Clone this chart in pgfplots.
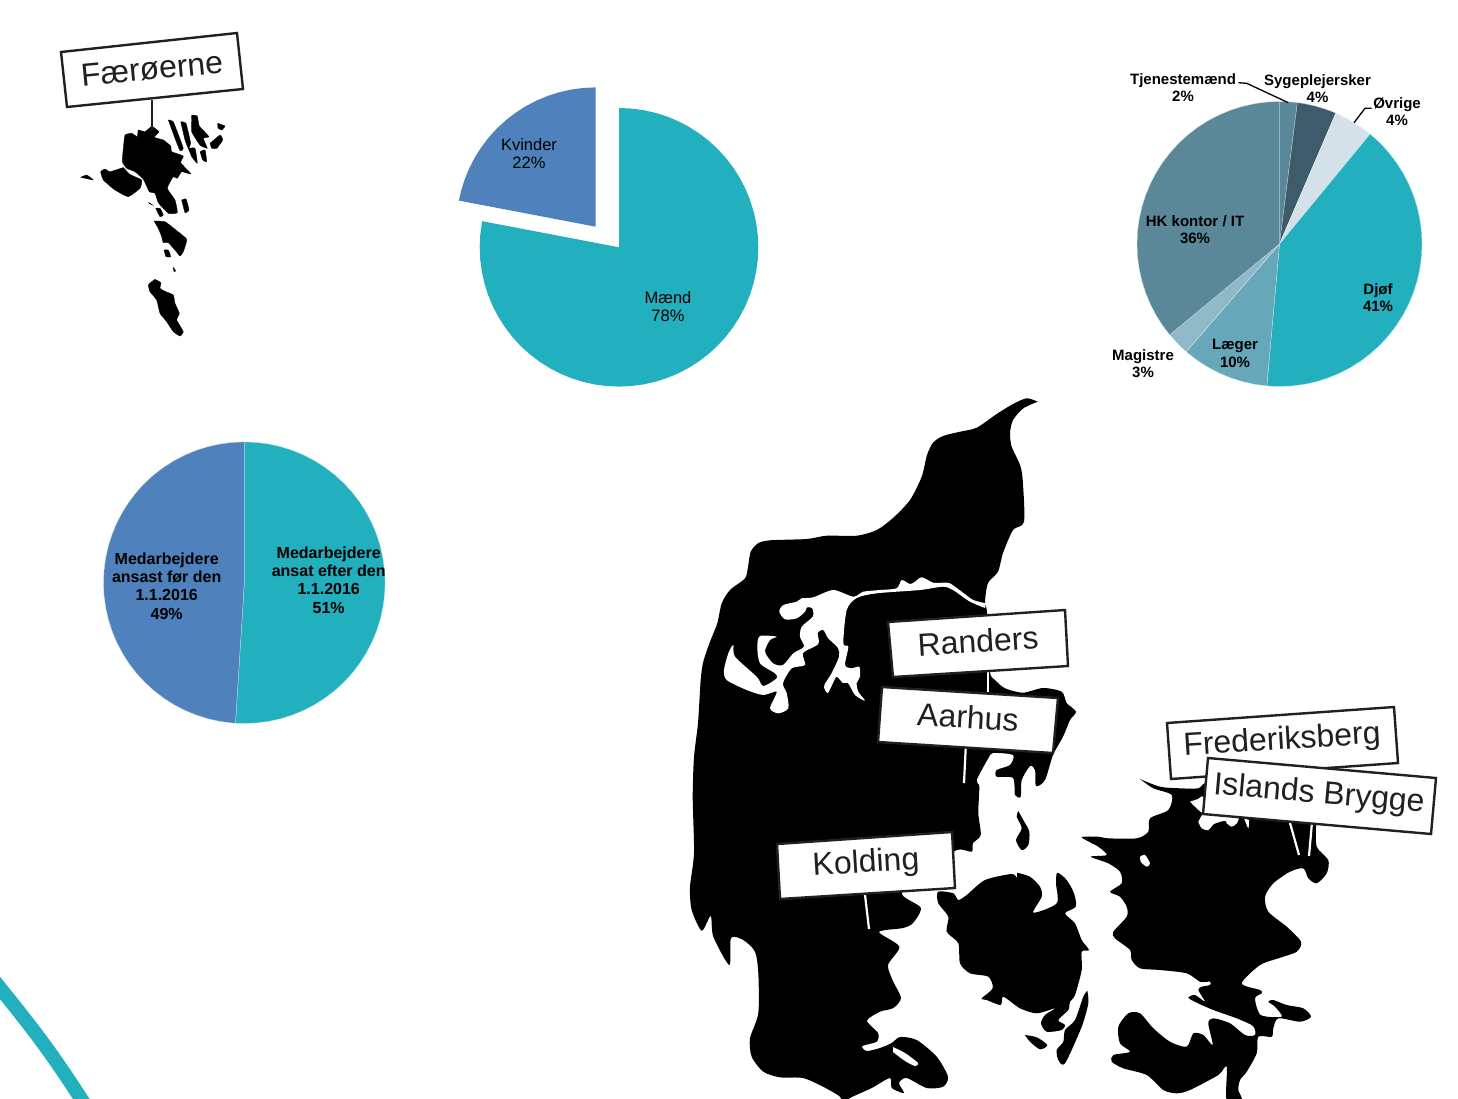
\documentclass[border=0pt]{standalone}
\usepackage{pgfplots}
\pgfplotsset{compat=1.18}
\usepackage{fontspec}
\setmainfont{Liberation Sans}
\definecolor{teal1}{HTML}{22AFBE}
\definecolor{blue1}{HTML}{4F81BC}
\definecolor{hk}{HTML}{5A8898}
\definecolor{syg}{HTML}{3E5B6C}
\definecolor{ovr}{HTML}{D5E1E9}
\definecolor{laeg}{HTML}{67A7BA}
\definecolor{mag}{HTML}{8FB8C8}
\definecolor{ink}{HTML}{231F20}
\pgfplotsset{
  pie/.style={hide axis, scale only axis, anchor=center, clip=false,
    xmin=-1,xmax=1,ymin=-1,ymax=1},
  slice/.style={fill=#1, draw=white!70!#1, line width=0.3pt, data cs=polar},
  land/.style={fill=black, draw=none, smooth, tension=0.45},
  plain land/.style={fill=black, draw=black, line width=0.3pt, smooth, tension=0.25},
  sea/.style={fill=white, draw=none, smooth, tension=0.45},
  box/.style={fill=white, draw=ink, line width=2.4pt, line join=miter},
  stemw/.style={draw=white, line width=2.2pt},
}
\begin{document}
\begin{tikzpicture}[x=1pt,y=1pt]
\path[use as bounding box] (0,0) rectangle (1458,1098);
% Pie: Maend / Kvinder
\begin{axis}[pie, at={(619pt,850.7pt)}, width=278.6pt, height=278.6pt]
\addplot[fill=teal1,draw=none,data cs=polar] coordinates {(0,0)(90,1)(85,1)(80,1)(75,1)(70,1)(65,1)(60,1)(55,1)(50,1)(45,1)(40,1)(35,1)(30,1)(25,1)(20,1)(15,1)(10,1)(5,1)(0,1)(-5,1)(-10,1)(-15,1)(-20,1)(-25,1)(-30,1)(-35,1)(-40,1)(-45,1)(-50,1)(-55,1)(-60,1)(-65,1)(-70,1)(-75,1)(-80,1)(-85,1)(-90,1)(-95,1)(-100,1)(-105,1)(-110,1)(-115,1)(-120,1)(-125,1)(-130,1)(-135,1)(-140,1)(-145,1)(-150,1)(-155,1)(-160,1)(-165,1)(-170,1)(-175,1)(-180,1)(-185,1)(-190,1)(-190.8,1)(0,0)};
\end{axis}
\begin{axis}[pie, at={(595.7pt,871.3pt)}, width=278.6pt, height=278.6pt]
\addplot[fill=blue1,draw=none,data cs=polar] coordinates {(0,0)(169.2,1)(165,1)(160,1)(155,1)(150,1)(145,1)(140,1)(135,1)(130,1)(125,1)(120,1)(115,1)(110,1)(105,1)(100,1)(95,1)(90,1)(0,0)};
\end{axis}
% Pie: faggrupper
\begin{axis}[pie, at={(1279.5pt,854pt)}, width=285pt, height=285pt]
\addplot[slice=hk] coordinates {(0,0)(90,1)(85,1)(82.8,1)(0,0)};
\addplot[slice=syg] coordinates {(0,0)(82.8,1)(80,1)(75,1)(70,1)(66.7,1)(0,0)};
\addplot[slice=ovr] coordinates {(0,0)(66.7,1)(65,1)(60,1)(55,1)(50.5,1)(0,0)};
\addplot[slice=teal1] coordinates {(0,0)(50.5,1)(50,1)(45,1)(40,1)(35,1)(30,1)(25,1)(20,1)(15,1)(10,1)(5,1)(0,1)(-5,1)(-10,1)(-15,1)(-20,1)(-25,1)(-30,1)(-35,1)(-40,1)(-45,1)(-50,1)(-55,1)(-60,1)(-65,1)(-70,1)(-75,1)(-80,1)(-85,1)(-90,1)(-95,1)(-95.1,1)(0,0)};
\addplot[slice=laeg] coordinates {(0,0)(-95.1,1)(-100,1)(-105,1)(-110,1)(-115,1)(-120,1)(-125,1)(-130,1)(-130.9,1)(0,0)};
\addplot[slice=mag] coordinates {(0,0)(-130.9,1)(-135,1)(-140,1)(-140.4,1)(0,0)};
\addplot[slice=hk] coordinates {(0,0)(-140.4,1)(-145,1)(-150,1)(-155,1)(-160,1)(-165,1)(-170,1)(-175,1)(-180,1)(-185,1)(-190,1)(-195,1)(-200,1)(-205,1)(-210,1)(-215,1)(-220,1)(-225,1)(-230,1)(-235,1)(-240,1)(-245,1)(-250,1)(-255,1)(-260,1)(-265,1)(-270,1)(0,0)};
\end{axis}
% Pie: Medarbejdere
\begin{axis}[pie, at={(244.3pt,515.3pt)}, width=281.6pt, height=281.6pt]
\addplot[slice=teal1] coordinates {(0,0)(90,1)(85,1)(80,1)(75,1)(70,1)(65,1)(60,1)(55,1)(50,1)(45,1)(40,1)(35,1)(30,1)(25,1)(20,1)(15,1)(10,1)(5,1)(0,1)(-5,1)(-10,1)(-15,1)(-20,1)(-25,1)(-30,1)(-35,1)(-40,1)(-45,1)(-50,1)(-55,1)(-60,1)(-65,1)(-70,1)(-75,1)(-80,1)(-85,1)(-90,1)(-93.6,1)(0,0)};
\addplot[slice=blue1] coordinates {(0,0)(-93.6,1)(-95,1)(-100,1)(-105,1)(-110,1)(-115,1)(-120,1)(-125,1)(-130,1)(-135,1)(-140,1)(-145,1)(-150,1)(-155,1)(-160,1)(-165,1)(-170,1)(-175,1)(-180,1)(-185,1)(-190,1)(-195,1)(-200,1)(-205,1)(-210,1)(-215,1)(-220,1)(-225,1)(-230,1)(-235,1)(-240,1)(-245,1)(-250,1)(-255,1)(-260,1)(-265,1)(-270,1)(0,0)};
\end{axis}
% Main canvas in picture pixels
\begin{axis}[at={(0pt,0pt)}, anchor=south west, hide axis, scale only axis,
  width=1458pt, height=1098pt, xmin=0, xmax=1458, ymin=0, ymax=1098, y dir=reverse]
% teal arc
\addplot[draw=teal1, line width=14pt, smooth, tension=0.7] coordinates {(-12,973)(0,988)(20,1013)(40,1039)(60,1067)(80,1097)(92,1116)};
% Jutland
\addplot[land] coordinates {(1037.7,401.7)(1026.7,398.3)(1013,404)(996.7,414)(976.7,427.7)(960,431.7)(943,436)(933,442.7)(927,455)(921.7,476.7)(910,500)(893,518)(876.7,530)(856.7,535.7)(826.7,535.7)(806.7,539)(770,540.3)(758,543.3)(750.7,551.7)(748,566.7)(745,578.3)(730,590)(721.7,603.3)(717.3,623.3)(710,641.7)(703.3,661.7)(700.7,680)(698,723)(694,757)(692.7,797)(694,853)(690,887)(691.7,910)(701.7,930.7)(710.7,916)(713.3,936.7)(729.3,965)(731,938)(743.3,940)(755,951.7)(758.3,973.3)(758.3,1013.3)(750,1038.3)(751.7,1056.7)(763.3,1071.7)(780,1077.3)(803,1078)(823,1086.7)(840,1096.7)(843,1105)(850,1098)(871.7,1088)(890,1078)(891.7,1088)(904,1093)(899,1083)(906.7,1078)(926.7,1088)(943,1086.7)(948,1076.7)(936.7,1056.7)(916.7,1040)(900,1037)(891.7,1043)(880,1048)(866.7,1051)(862.3,1046)(876.7,1041.7)(878,1033)(867,1020.7)(880,1011.7)(893.3,1008)(901,998)(893.3,981.7)(888,965)(899.3,946.7)(879,932)(903,928)(913,923)(920.7,907.7)(901.7,893)(930,870)(956.7,850)(971.7,851.7)(973,843)(980.7,835)(978.3,813)(979.3,786.7)(976.7,780)(988.3,758.3)(993,753)(1013,755)(1010,765)(996.7,770)(996.7,776.7)(1013,778)(1015,795)(1020.7,796.7)(1021.7,780)(1030,766)(1035,770)(1036,786)(1045,780)(1053,755)(1063,736.7)(1070,720)(1076,711.7)(1066.7,703)(1061.7,691.7)(1043,688)(1023,692.7)(1005,688.3)(995,680)(990,673)(987,640)(987,612)(985,601.7)(988,583)(998,571.7)(1003,553)(1013,530)(1024,521.7)(1022.7,480)(1020,465)(1011.7,446.7)(1010,433)(1013,420)(1023.3,408.3)(1037.7,401.7)};
% fjord sliver
\addplot[sea] coordinates {(893,1047)(905,1053)(918,1063)(915,1066)(905,1061)(893,1052)};
% Limfjord
\addplot[sea] coordinates {(986,603.3)(973.3,600)(961.7,591.7)(950,583.3)(943.3,582.7)(933.3,582.7)(921.7,577.3)(915,581.7)(910,584)(901.7,580)(896.7,588.3)(880,590)(863.3,591.7)(853.3,596.7)(833.3,590)(813.3,597.3)(801.7,598.3)(796.7,601.7)(783.3,605)(779.3,611.7)(785,619.3)(796.7,618.3)(805,611.7)(807,607.3)(812.3,608.3)(812.7,616.7)(801.7,626.7)(800,636.7)(804,646.7)(793.3,653.3)(783,665)(773,663.3)(765,651.7)(770,640)(776.7,636.7)(760,636)(757.3,646.7)(760,663.3)(775,673.3)(776.7,678.3)(763.3,686)(756.7,676.7)(735,656.7)(733.3,645)(728.3,653.3)(724,670)(726.7,680)(746.7,690)(763.3,695)(776.7,691.7)(770,708.3)(778.3,713.3)(788.3,708.3)(786.7,693.3)(783,683.3)(791.7,668.3)(805,665)(803,653)(818.3,644)(817.7,633)(823.3,630)(828,638)(838,648)(839,656.7)(831.7,673)(824.3,685)(825,690)(828,693)(833,683)(836.7,676.7)(843,683)(848,683)(855,695)(865,700.7)(858.3,691.7)(856.7,683)(860,676.7)(859.3,666.7)(851.7,668.3)(845,665)(848.3,646.7)(843.3,643.3)(846.7,610)(856.7,598)(876.7,593.3)(920,590)(943,586.7)(953,590)(970,601.7)(985,608)};
% Fyn
\addplot[land] coordinates {(1017,872.7)(1030,876.7)(1040,886.7)(1041.7,896.7)(1033.3,912.7)(1056.7,903.3)(1056,883.3)(1057.3,872.7)(1066.7,880)(1074,893.3)(1075.7,906.7)(1065,913.3)(1075,923.3)(1081.7,940)(1089,950)(1081.7,951.7)(1081.7,970)(1075,995)(1070,1001.7)(1068.3,1010)(1058.3,1020)(1065,1025)(1061.7,1030)(1046.7,1031.7)(1041,1023.3)(1045,1015)(1055,1008.3)(1036.7,1013.3)(1020,1008.3)(1003.3,996.7)(1000.7,1005)(986.7,1000)(981.7,998.3)(992.7,988.3)(988.3,976.7)(970,973.3)(960,963.3)(958.3,943.3)(946.7,931.7)(948.3,916.7)(938.3,903.3)(938,891.7)(953.3,893.3)(958.3,900)(966.7,895)(985,880)(1011.7,874)(1017,878.3)};
\addplot[land] coordinates {(1087.3,990.7)(1088.3,1003.3)(1081.7,1026.7)(1065,1063.3)(1058.3,1060)(1056.7,1050)(1063.3,1041.7)(1065,1030)(1075,1020)(1083.3,996.7)(1087.3,990.7)};
\addplot[land] coordinates {(1025,1035)(1036.7,1037.3)(1047.3,1045)(1040,1049.3)(1030,1041.7)(1025,1035)};
\addplot[land] coordinates {(1018.3,811)(1023.3,820)(1029.3,831.7)(1028.3,845)(1021.7,850)(1016,840)(1021.7,828.3)(1016.7,816.7)(1018.3,811)};
% Sjaelland, Moen, Falster, Lolland
\addplot[land] coordinates {(1140,779)(1160,786.7)(1180,788.3)(1198.3,788.3)(1206.7,783.3)(1230,800)(1315,812)(1316,823.3)(1316.7,846.7)(1328.3,860)(1326.7,873.3)(1316.7,883.3)(1308.3,878.3)(1303.3,868.3)(1290,871.7)(1273.3,883.3)(1265,896.7)(1268.3,911.7)(1286.7,926.7)(1301,941.7)(1296.7,951.7)(1278.3,958.3)(1260,965)(1241.7,983.3)(1260,990)(1261.7,993.3)(1255,998.3)(1260.7,1015)(1281.7,1016.7)(1275,1006.7)(1268.3,1001.7)(1273.3,1000)(1286.7,1005)(1303.3,1008.3)(1311,1016.7)(1300,1021.7)(1278.3,1018.3)(1273.3,1028.3)(1271.7,1036.7)(1258.3,1036.7)(1256.7,1053.3)(1246.7,1071.7)(1240,1080)(1238.3,1090)(1241.7,1100)(1226.7,1100)(1226.7,1066.7)(1218.3,1075)(1190,1090)(1176.7,1093.3)(1163.3,1090)(1146.7,1075)(1123.3,1068.3)(1111.7,1061.7)(1113.3,1055)(1130,1051.7)(1120,1043.3)(1118.3,1026.7)(1128.3,1013.3)(1140,1013.3)(1153.3,1028.3)(1170,1041.7)(1186.7,1046.7)(1193.3,1033.3)(1203.3,1035)(1212.7,1045)(1208.3,1023.3)(1213.3,1018.3)(1230,1023.3)(1245,1035)(1255,1035)(1253,1026)(1236.7,1018.3)(1213.3,1010)(1196.7,1002.7)(1188.3,997.7)(1195,995)(1205,1001.7)(1198.3,990)(1201.7,986.7)(1210,985)(1210,981.7)(1200,981.7)(1186.7,973.3)(1160,970)(1140,968.3)(1131.7,960)(1130,950)(1115,938.3)(1113.3,931.7)(1126.7,916.7)(1126.7,906.7)(1120,896.7)(1110,891.7)(1121.7,883.3)(1120,871.7)(1108.3,863.3)(1090.7,856.7)(1106.7,855)(1098.3,846.7)(1081.7,837.3)(1098.3,836.7)(1108.3,838.3)(1136.7,838.3)(1148.3,831.7)(1150,818.3)(1168.3,810)(1171.7,795)(1153.3,788.3)(1140,779)};
\addplot[sea] coordinates {(1198.3,821.7)(1201.7,828.3)(1208.3,830)(1214,824)(1225,820.7)(1226.7,823.3)(1231.7,826.7)(1236.7,823.3)(1236.7,816.7)(1203,813)};
\addplot[sea] coordinates {(1190,801.7)(1203,813)(1203.3,796.7)(1198,799)};
\addplot[sea] coordinates {(1244,818.3)(1248.3,828.3)(1249,820)};
\addplot[sea] coordinates {(1140,856.7)(1145,855)(1150,863.3)(1146.7,866.7)(1140.7,861.7)(1140,856.7)};
% Faroe Islands
\addplot[plain land] coordinates {(151.7,126)(159,131.7)(154.3,137.3)(163.3,140)(170.7,146)(171.7,151.7)(183.3,156)(180.7,162.7)(191,174)(181.7,171.7)(177.3,178.3)(173.3,176.7)(167.3,188.3)(175,200)(177.3,212.7)(168.3,213.3)(158.3,202.7)(155,193.3)(149.3,191.7)(143.3,179.3)(135,171.7)(126.7,168.3)(122.3,161.7)(123.3,148.3)(125,135)(131.7,133.3)(137.3,136.7)(138.3,130)(145,131.7)(151.7,126)};
\addplot[plain land] coordinates {(123.3,167.5)(130,174.5)(141.7,180)(140,188.3)(128.3,196.7)(115,190)(103.3,180)(100.7,171.7)(105,169)(110,171.7)(123.3,167.5)};
\addplot[plain land] coordinates {(80.7,177.3)(86.7,175)(93.3,180)(80.7,177.3)};
\addplot[plain land] coordinates {(168.3,120)(173.3,121.7)(183.3,148.3)(180,150.7)(175,138.3)(168.3,120)};
\addplot[plain land] coordinates {(180.7,121.7)(186,123.3)(190.7,143.3)(188.3,148.3)(185,140)(180.7,121.7)};
\addplot[plain land] coordinates {(191.7,115)(197.3,116)(199.3,126)(209,136.7)(203.3,138.3)(207.3,148.3)(200,145)(191.7,131.7)(191.7,115)};
\addplot[plain land] coordinates {(188.3,148.3)(195,148.3)(197.3,163.3)(191.7,156.7)(188.3,148.3)};
\addplot[plain land] coordinates {(200,151.7)(205,150)(206.7,161.7)(202.7,160)(200,151.7)};
\addplot[plain land] coordinates {(217.7,123.3)(225,126)(221.7,130)(218,128)(217.7,123.3)};
\addplot[plain land] coordinates {(210,143.3)(220,135)(222.7,140)(216.7,148.3)(211.7,148.3)(210,143.3)};
\addplot[plain land] coordinates {(181.7,200)(186,199)(189,210)(185,212.7)(181.7,200)};
\addplot[plain land] coordinates {(155.7,208.3)(160,208.3)(163.3,215)(160,216.7)(155.7,208.3)};
\addplot[plain land] coordinates {(148.3,202.3)(152.7,205)(150,204)(148.3,202.3)};
\addplot[plain land] coordinates {(154,221)(165,221.7)(175,229.3)(186.7,239.3)(183.3,251.7)(180,256)(175,250)(168.3,242.7)(163.3,242.7)(161.7,236.7)(158.3,228.3)(154,221)};
\addplot[plain land] coordinates {(164,250)(168.3,250)(170.7,256.7)(166,256.7)(164,250)};
\addplot[plain land] coordinates {(173.3,267.3)(175.7,270.7)(174,271.7)(173.3,267.3)};
\addplot[plain land] coordinates {(155,279.3)(161,282.7)(160,288.3)(166,291.7)(173.3,295)(175,303.3)(179.3,313.3)(176.7,320)(183.3,331.7)(180,336)(173.3,331.7)(166.7,321.7)(160,313.3)(156.7,300)(150,291.7)(148.3,285)(151.7,281.7)(155,279.3)};
% stems
\addplot[draw=ink, line width=2.4pt] coordinates {(152,100)(152,130)};
\addplot[stemw] coordinates {(988,672)(988,692)};
\addplot[stemw] coordinates {(965.7,748)(964,783)};
\addplot[stemw] coordinates {(865,895)(869,929)};
\addplot[stemw] coordinates {(1290,823)(1299,855)};
\addplot[stemw] coordinates {(1312,822)(1309,856)};
% boxes
\addplot[box] coordinates {(61,52)(237,33)(243,89)(67,107)(61,52)(237,33)};
\node[rotate=5.5,font=\fontsize{32}{36}\selectfont,text=ink] at (152,69) {Færøerne};
\addplot[box] coordinates {(888,622)(1065,610)(1068,666)(893,677)(888,622)(1065,610)};
\node[rotate=3.5,font=\fontsize{32}{36}\selectfont,text=ink] at (978,641) {Randers};
\addplot[box] coordinates {(882,687)(1058,698)(1053,753)(878,742)(882,687)(1058,698)};
\node[rotate=-3.5,font=\fontsize{32}{36}\selectfont,text=ink] at (968,717) {Aarhus};
\addplot[box] coordinates {(777,844)(952,832)(955,888)(780,899)(777,844)(952,832)};
\node[rotate=3.5,font=\fontsize{32}{36}\selectfont,text=ink] at (866,864) {Kolding};
\addplot[box] coordinates {(1167,723)(1394,707)(1398,763)(1171,779)(1167,723)(1394,707)};
\node[rotate=3.5,font=\fontsize{32}{36}\selectfont,text=ink] at (1282,741) {Frederiksberg};
\addplot[box] coordinates {(1208,758)(1436,778)(1431,834)(1203,814)(1208,758)(1436,778)};
\node[rotate=-5,font=\fontsize{32}{36}\selectfont,text=ink] at (1319,795) {Islands Brygge};
% leaders
\addplot[draw=black, line width=1.3pt] coordinates {(1238.3,82.7)(1246.7,83.3)(1288.3,102.7)};
\addplot[draw=black, line width=1.3pt] coordinates {(1354,122.7)(1365,108.3)(1371.7,108.3)};
% pie labels
\node[align=center,font=\fontsize{16.5}{18}\selectfont] at (529,154) {Kvinder\\22\%};
\node[align=center,font=\fontsize{16.5}{18}\selectfont] at (668,307) {Mænd\\78\%};
\node[align=center,font=\bfseries\fontsize{15}{17.2}\selectfont] at (1183,88) {Tjenestemænd\\2\%};
\node[align=center,font=\bfseries\fontsize{15}{17.2}\selectfont] at (1317.5,89) {Sygeplejersker\\4\%};
\node[align=center,font=\bfseries\fontsize{15}{17.2}\selectfont] at (1397,112) {Øvrige\\4\%};
\node[align=center,font=\bfseries\fontsize{15}{17.2}\selectfont] at (1195,229.5) {HK kontor / IT\\36\%};
\node[align=center,font=\bfseries\fontsize{15}{17.2}\selectfont] at (1378,298) {Djøf\\41\%};
\node[align=center,font=\bfseries\fontsize{15}{17.2}\selectfont] at (1235,353.5) {Læger\\10\%};
\node[align=center,font=\bfseries\fontsize{15}{17.2}\selectfont] at (1143,363.5) {Magistre\\3\%};
\node[align=center,font=\bfseries\fontsize{16}{18.4}\selectfont] at (166.7,586) {Medarbejdere\\ansast før den\\1.1.2016\\49\%};
\node[align=center,font=\bfseries\fontsize{16}{18.4}\selectfont] at (328.7,580) {Medarbejdere\\ansat efter den\\1.1.2016\\51\%};
\end{axis}
\end{tikzpicture}
\end{document}
